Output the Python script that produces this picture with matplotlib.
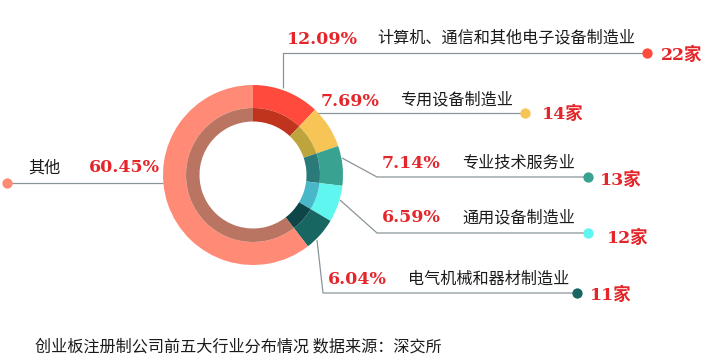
import matplotlib
matplotlib.use("Agg")
import matplotlib.pyplot as plt

# data
industries = ["计算机、通信和其他电子设备制造业", "专用设备制造业", "专业技术服务业",
              "通用设备制造业", "电气机械和器材制造业", "其他"]
shares = [12.09, 7.69, 7.14, 6.59, 6.04, 60.45]
counts = [22, 14, 13, 12, 11, None]
caption = "创业板注册制公司前五大行业分布情况 数据来源：深交所"

outer_colors = ["#ff4a3d", "#f6c555", "#3aa291", "#5ef6ee", "#186662", "#ff8b76"]
inner_colors = ["#c0341e", "#bda43c", "#2a7a7a", "#48b8c8", "#0e4548", "#b97462"]

W, H = 707, 364
RED = "#e4262b"
LINE = "#8a9499"
CJK = ["Noto Sans CJK SC", "DejaVu Sans"]
NUM = ["DejaVu Serif", "Noto Sans CJK SC"]

fig = plt.figure(figsize=(W / 100, H / 100), dpi=100)
ax = fig.add_axes([0, 0, 1, 1])

cx, cy = 253, H - 175
ax.pie(shares, colors=outer_colors, radius=90, center=(cx, cy), startangle=90,
       counterclock=False, wedgeprops=dict(width=23, linewidth=0), frame=True)
ax.pie(shares, colors=inner_colors, radius=67, center=(cx, cy), startangle=90,
       counterclock=False, wedgeprops=dict(width=13.5, linewidth=0), frame=True)

# leader lines: (path points in image px), dot position, label positions
leaders = [
    [(283, 88), (283, 53), (647, 53)],
    [(318, 113), (525, 113)],
    [(342, 158), (377, 177), (588, 177)],
    [(340, 200), (377, 233), (588, 233)],
    [(317, 240), (323, 293), (577, 293)],
    [(163, 183), (7, 183)],
]
pct_pos = [(322, 40), (350, 101), (411, 163), (411, 218), (357, 280), (124, 168)]
name_pos = [(377, 38), (400, 100), (462, 163), (462, 218), (408, 279), (28, 168)]
cnt_pos = [(661, 55), (542, 114), (600, 180), (607, 238), (590, 295)]

for i, pts in enumerate(leaders):
    xs = [p[0] for p in pts]
    ys = [H - p[1] for p in pts]
    ax.plot(xs, ys, color=LINE, lw=0.9, solid_capstyle="butt")
    ax.scatter([xs[-1]], [ys[-1]], s=55, color=outer_colors[i], zorder=5, linewidths=0)
    ax.text(pct_pos[i][0], H - pct_pos[i][1], "{:.2f}%".format(shares[i]),
            color=RED, fontsize=12.5, fontweight="bold", family=NUM,
            ha="center", va="center")
    ax.text(name_pos[i][0], H - name_pos[i][1], industries[i], color="#1a1a1a",
            fontsize=11.6, family=CJK, ha="left", va="center")
    if counts[i] is not None:
        ax.text(cnt_pos[i][0], H - cnt_pos[i][1], "{}家".format(counts[i]),
                color=RED, fontsize=12.5, fontweight="bold", family=NUM,
                ha="left", va="center")

ax.text(35, H - 347, caption, color="#1a1a1a", fontsize=11.6, family=CJK,
        ha="left", va="center")

ax.set_xlim(0, W)
ax.set_ylim(0, H)
ax.set_aspect("equal")
ax.axis("off")
fig.savefig("out.png", dpi=100, facecolor="white")
